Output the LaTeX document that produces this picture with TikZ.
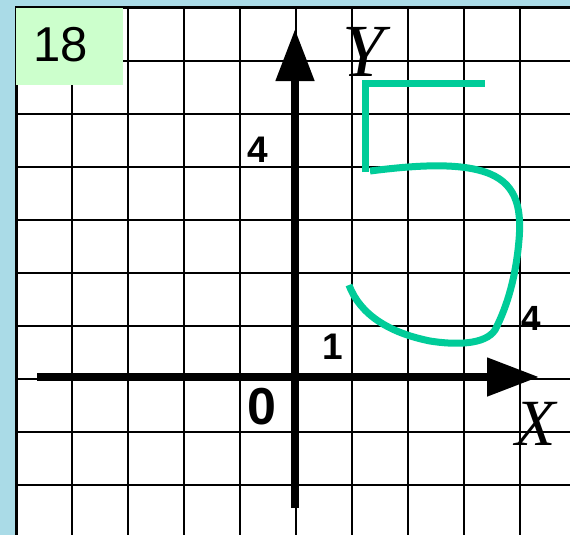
\documentclass[tikz,border=0pt]{standalone}
\usepackage{fontspec}
\setmainfont{Liberation Serif}
\setsansfont{Liberation Sans}
\usetikzlibrary{arrows.meta}
\definecolor{bgblue}{RGB}{170,219,231}
\definecolor{boxgreen}{RGB}{204,255,204}
\definecolor{fivegreen}{RGB}{0,204,153}
\tikzset{
  gridline/.style={line width=2.4pt, black},
  axisline/.style={line width=8pt, black, -{Triangle[length=52pt,width=37pt]}},
  numlabel/.style={inner sep=0pt, font=\sffamily\bfseries},
  axislabel/.style={inner sep=0pt, font=\itshape},
  fivestroke/.style={line width=7pt, fivegreen},
}
\begin{document}
\begin{tikzpicture}[x=1pt,y=-1pt]
\useasboundingbox (0,0) rectangle (570,535);
% background
\fill[bgblue] (0,0) rectangle (570,535);
\fill[white] (16,8) rectangle (570,535);
% grid
\foreach \gx in {16,72,128,184,240,296,352,408,464,520}
  \draw[gridline] (\gx,8) -- (\gx,535);
\foreach \gy in {8,61,114,167,220,273,326,379,432,485}
  \draw[gridline] (16,\gy) -- (570,\gy);
\draw[line width=3pt] (16,535) -- (16,8) -- (570,8);
% number box
\fill[boxgreen] (16,8) rectangle (123,85);
\node[inner sep=0pt, font=\sffamily\fontsize{49}{49}\selectfont] (num) at (61,45) {18};
% axes
\coordinate (xs) at (37,377);
\coordinate (xe) at (539,377);
\coordinate (ys) at (295,508);
\coordinate (ye) at (295,29);
\draw[axisline] (xs) -- (xe);
\draw[axisline] (ys) -- (ye);
% axis labels
\node[axislabel, font=\itshape\fontsize{75}{75}\selectfont] (ylab) at (363,52) {Y};
\node[axislabel, font=\itshape\fontsize{66}{66}\selectfont] (xlab) at (536,424) {X};
\node[numlabel, font=\sffamily\bfseries\fontsize{37}{37}\selectfont] (y4) at (258,150) {4};
\node[numlabel, font=\sffamily\bfseries\fontsize{37}{37}\selectfont] (x1) at (333,347) {1};
\node[numlabel, font=\sffamily\bfseries\fontsize{35}{35}\selectfont] (x4) at (531,318) {4};
\node[numlabel, font=\sffamily\bfseries\fontsize{52}{52}\selectfont] (o) at (262,407) {0};
% the figure five
\draw[fivestroke, line join=miter] (365,172) -- (365,83) -- (485,83);
\draw[fivestroke] (370,171)
  .. controls (410,166) and (455,162) .. (485,172)
  .. controls (515,182) and (522,205) .. (519,240)
  .. controls (516,275) and (508,305) .. (495,330)
  .. controls (485,345) and (455,345) .. (430,341)
  .. controls (390,333) and (360,315) .. (349,285);
\end{tikzpicture}
\end{document}
